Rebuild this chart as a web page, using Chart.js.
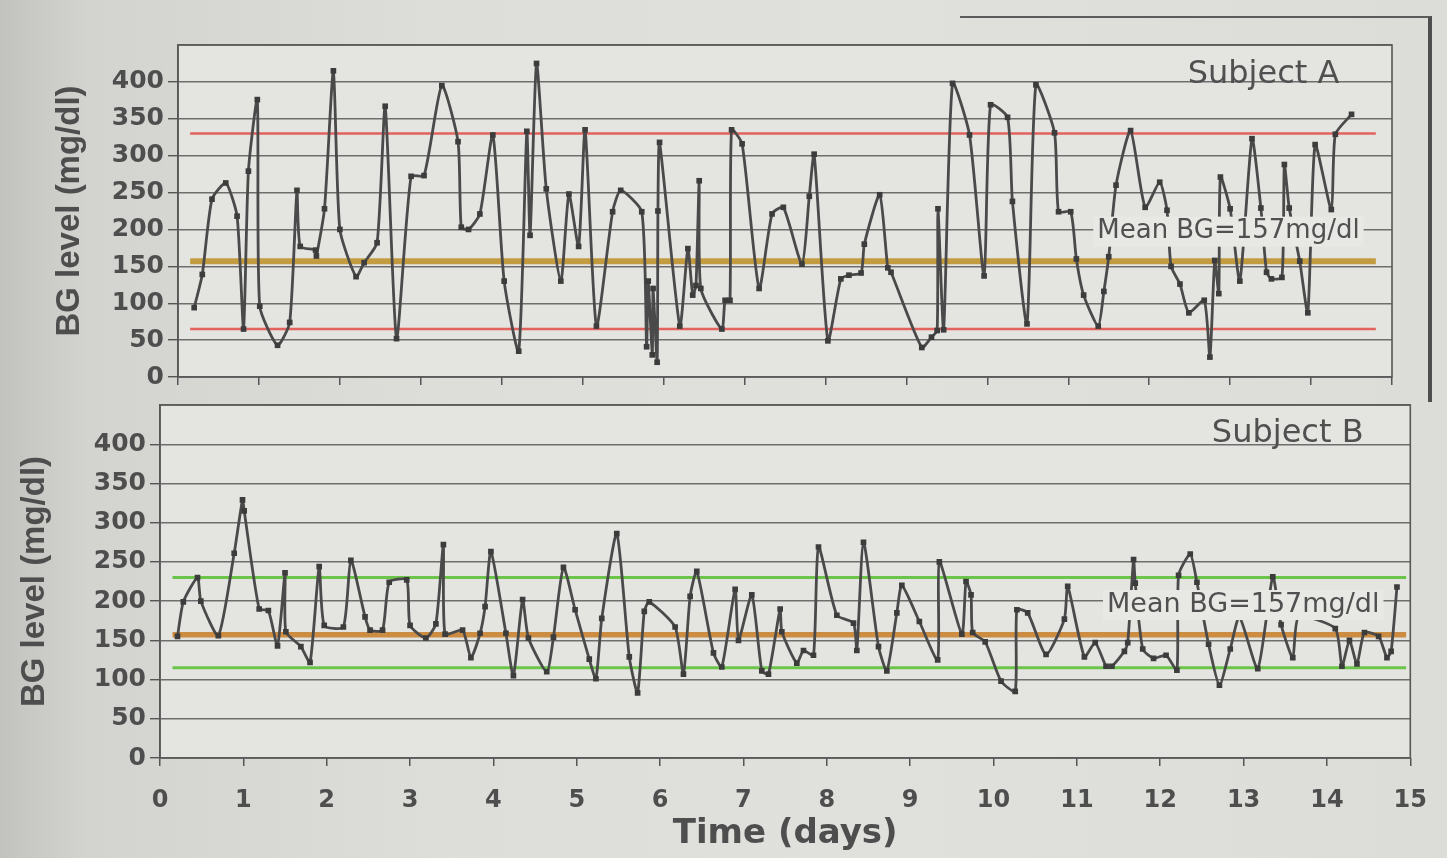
<!DOCTYPE html>
<html>
<head>
<meta charset="utf-8">
<script src="https://cdn.jsdelivr.net/npm/chart.js@4.4.1/dist/chart.umd.min.js"></script>
<style>
html,body{margin:0;padding:0;width:1447px;height:858px;overflow:hidden;background:#dadbd7;}
#bg{position:absolute;left:0;top:0;width:1447px;height:858px;
  background:linear-gradient(90deg,#c2c3bf 0%,#d3d4d0 6%,#dddeda 30%,#e0e1dd 60%,#dcddd9 100%);}
#outer{position:absolute;left:960px;top:16px;width:468px;height:384px;border-top:2px solid #5c5c5c;border-right:4px solid #4e4e4e;}
.wrap{position:absolute;left:0;width:1447px;}
#wa{top:0;height:396px;}
#wb{top:386px;height:472px;}
</style>
</head>
<body>
<div id="bg"></div>
<div id="outer"></div>
<div class="wrap" id="wa"><canvas id="ca"></canvas></div>
<div class="wrap" id="wb"><canvas id="cb"></canvas></div>
<script>
// ---------- data ----------
const daysA = [0.20,0.30,0.42,0.59,0.73,0.81,0.87,0.98,1.01,1.23,1.38,1.47,1.51,1.70,1.71,1.81,1.92,2.00,2.20,2.30,
  2.46,2.56,2.70,2.88,3.04,3.26,3.46,3.50,3.59,3.73,3.89,4.03,4.21,4.31,4.35,4.43,4.55,4.73,4.83,4.95,
  5.03,5.17,5.37,5.47,5.73,5.79,5.81,5.86,5.87,5.92,5.93,5.95,6.20,6.30,6.36,6.40,6.44,6.46,6.72,6.76,
  6.82,6.84,6.97,7.18,7.34,7.48,7.71,7.80,7.86,8.03,8.19,8.29,8.44,8.48,8.67,8.77,8.81,9.19,9.31,9.38,
  9.39,9.46,9.57,9.78,9.96,10.04,10.25,10.31,10.49,10.60,10.83,10.88,11.03,11.10,11.19,11.37,11.44,11.50,11.59,11.77,
  11.95,12.13,12.22,12.27,12.38,12.49,12.68,12.75,12.81,12.86,12.88,13.00,13.12,13.27,13.38,13.45,13.51,13.64,13.67,13.73,
  13.86,13.96,14.05,14.25,14.30,14.50];
const bgA = [94,139,241,263,218,65,279,376,96,43,74,253,177,172,164,228,415,200,136,155,
  182,367,52,272,273,395,319,203,200,221,328,130,35,333,192,425,255,130,248,177,
  335,69,224,253,224,41,130,30,120,20,225,318,69,174,111,124,266,120,65,104,
  104,335,316,120,221,230,153,245,302,49,133,138,141,180,247,148,142,40,54,63,
  228,64,398,328,137,369,352,238,72,396,331,224,224,160,111,69,116,163,260,334,
  230,264,226,150,126,87,104,27,158,113,271,228,130,323,229,142,133,135,288,229,
  157,87,315,227,329,356];

const daysB = [0.21,0.28,0.45,0.49,0.70,0.89,0.99,1.01,1.19,1.30,1.41,1.50,1.51,1.69,1.80,1.91,1.97,2.20,2.29,2.46,
  2.52,2.67,2.75,2.96,3.00,3.19,3.31,3.40,3.42,3.63,3.73,3.84,3.90,3.97,4.15,4.24,4.35,4.42,4.64,4.72,
  4.84,4.98,5.15,5.23,5.30,5.48,5.63,5.73,5.81,5.87,6.18,6.28,6.36,6.44,6.64,6.74,6.90,6.94,7.10,7.22,
  7.30,7.44,7.46,7.64,7.72,7.84,7.90,8.12,8.32,8.36,8.44,8.62,8.72,8.84,8.90,9.11,9.33,9.35,9.62,9.67,
  9.73,9.75,9.90,10.09,10.26,10.28,10.41,10.63,10.85,10.89,11.09,11.22,11.35,11.42,11.57,11.61,11.68,11.70,11.79,11.92,
  12.07,12.20,12.22,12.36,12.44,12.58,12.71,12.84,12.95,13.17,13.35,13.45,13.59,13.66,14.10,14.18,14.27,14.36,14.45,14.62,
  14.72,14.77,14.84];
const bgB = [155,199,230,200,156,261,329,315,190,188,143,236,161,142,122,244,169,167,252,180,
  163,163,224,227,169,153,171,272,158,163,128,159,193,263,159,105,202,153,110,154,
  243,189,126,101,178,286,129,83,187,199,167,107,206,238,134,116,215,150,208,111,
  107,190,161,121,137,131,269,182,172,137,275,142,111,185,220,174,125,250,158,225,
  208,160,148,98,85,189,185,132,177,219,129,147,117,117,136,147,253,223,139,127,
  131,112,233,260,224,145,93,139,180,114,231,170,128,180,165,117,150,120,160,155,
  128,136,218];

const yTickValues = [0,50,100,150,200,250,300,350,400,450];
const xTickValues = [0,1,2,3,4,5,6,7,8,9,10,11,12,13,14,15];
const meanBG = 157;
const limitsA = [65,330];     // red lines, subject A
const limitsB = [115,230];    // green lines, subject B
const spanA = [0.15,14.8];
const spanB = [0.15,14.95];
const meanText = 'Mean BG=157mg/dl';

// ---------- helpers ----------
const pts = (xs, ys) => xs.map((x,i)=>({x:x, y:ys[i]}));
const hline = (v, span) => [{x:span[0], y:v}, {x:span[1], y:v}];

const plotFrame = {
  id:'plotFrame',
  beforeDraw(chart, args, o){
    const {ctx, chartArea:a} = chart;
    ctx.save(); ctx.fillStyle=o.color;
    ctx.fillRect(a.left,a.top,a.right-a.left,a.bottom-a.top); ctx.restore();
  },
  afterDraw(chart, args, o){
    const {ctx, chartArea:a} = chart;
    ctx.save(); ctx.strokeStyle=o.border; ctx.lineWidth=o.width;
    ctx.strokeRect(a.left,a.top,a.right-a.left,a.bottom-a.top); ctx.restore();
  }
};
const textBoxes = {
  id:'textBoxes',
  afterDatasetsDraw(chart, args, o){
    const {ctx, scales} = chart;
    (o.items||[]).forEach(it=>{
      ctx.save();
      ctx.font = it.font; ctx.textAlign='right'; ctx.textBaseline='middle';
      const px = scales.x.getPixelForValue(it.x), py = scales.y.getPixelForValue(it.y);
      const w = ctx.measureText(it.text).width;
      if (it.box){ ctx.fillStyle=it.box; ctx.fillRect(px-w-it.pad, py-it.h/2, w+2*it.pad, it.h); }
      ctx.fillStyle = it.color; ctx.fillText(it.text, px, py);
      ctx.restore();
    });
  }
};

function makeChart(id, cfg){
  const dataLine = {data:pts(cfg.days,cfg.bg), borderColor:'#4a4a4a', borderWidth:2.8, tension:0.2,
    pointStyle:'rect', pointRadius:4, pointBackgroundColor:'#3c3c3c', pointBorderWidth:0, order:1};
  const refs = [
    {data:hline(cfg.limits[1],cfg.span), borderColor:cfg.limitColor, borderWidth:cfg.limitWidth, pointRadius:0, order:3},
    {data:hline(cfg.limits[0],cfg.span), borderColor:cfg.limitColor, borderWidth:cfg.limitWidth, pointRadius:0, order:3},
    {data:hline(meanBG,cfg.span), borderColor:cfg.meanColor, borderWidth:cfg.meanWidth, pointRadius:0, order:2}
  ];
  return new Chart(document.getElementById(id), {
    type:'line',
    data:{datasets:[dataLine, ...refs]},
    options:{
      responsive:true, maintainAspectRatio:false, animation:false,
      layout:{padding:cfg.padding},
      plugins:{
        legend:{display:false}, tooltip:{enabled:false},
        plotFrame:{color:'#e4e5e1', border:'#575757', width:1.6},
        textBoxes:{items:cfg.labels}
      },
      scales:{
        x:{type:'linear', min:0, max:15,
          afterBuildTicks(s){ s.ticks = xTickValues.map(v=>({value:v})); },
          grid:{drawOnChartArea:false, drawTicks:true, tickLength:8, color:'#555', lineWidth:1.5},
          border:{display:false},
          ticks:{display:true, color:cfg.xLabels?'#4e4e4e':'rgba(0,0,0,0)', padding:20,
            font:{family:'DejaVu Sans', weight:'bold', size:24}},
          title:{display:!!cfg.xTitle, text:cfg.xTitle||'', color:'#4e4e4e', padding:{top:0,bottom:3},
            font:{family:'DejaVu Sans', weight:'bold', size:34}},
          afterFit(s){ s.height = cfg.xHeight; }
        },
        y:{min:0, max:450,
          afterBuildTicks(s){ s.ticks = yTickValues.map(v=>({value:v})); },
          ticks:{callback:v=> v<450 ? String(v) : '', color:'#4e4e4e', padding:4,
            font:{family:'DejaVu Sans', weight:'bold', size:25}},
          grid:{color:'#6e6e6e', lineWidth:1.4, drawTicks:true, tickLength:10,
            tickColor:c=> (c.tick && c.tick.value===450) ? 'rgba(0,0,0,0)' : '#555'},
          border:{display:true, color:'#555', width:1.6},
          title:{display:true, text:'BG level (mg/dl)', color:'#4e4e4e', padding:{top:0,bottom:0},
            font:{family:'Liberation Sans', weight:'bold', size:33}},
          afterFit(s){ s.width = cfg.yWidth; }
        }
      }
    },
    plugins:[plotFrame, textBoxes]
  });
}

makeChart('ca', {
  days:daysA, bg:bgA, limits:limitsA, span:spanA,
  limitColor:'#e2625e', limitWidth:2.5, meanColor:'#c39c42', meanWidth:6,
  padding:{left:50, right:55, top:45, bottom:0}, yWidth:128, xHeight:12, xLabels:false,
  labels:[
    {text:'Subject A', x:14.35, y:410, font:'32px "DejaVu Sans"', color:'#505050'},
    {text:meanText, x:14.6, y:197, font:'26px "DejaVu Sans"', color:'#505050', box:'#e8e9e5', pad:4, h:30}
  ]
});
makeChart('cb', {
  days:daysB, bg:bgB, limits:limitsB, span:spanB,
  limitColor:'#6cc44a', limitWidth:3, meanColor:'#cc8c42', meanWidth:5.5,
  padding:{left:15, right:34, top:12, bottom:0}, yWidth:145, xHeight:100, xLabels:true, xTitle:'Time (days)',
  labels:[
    {text:'Subject B', x:14.44, y:414, font:'32px "DejaVu Sans"', color:'#505050'},
    {text:meanText, x:14.63, y:195, font:'27px "DejaVu Sans"', color:'#505050', box:'#e8e9e5', pad:4, h:30}
  ]
});
</script>
</body>
</html>
